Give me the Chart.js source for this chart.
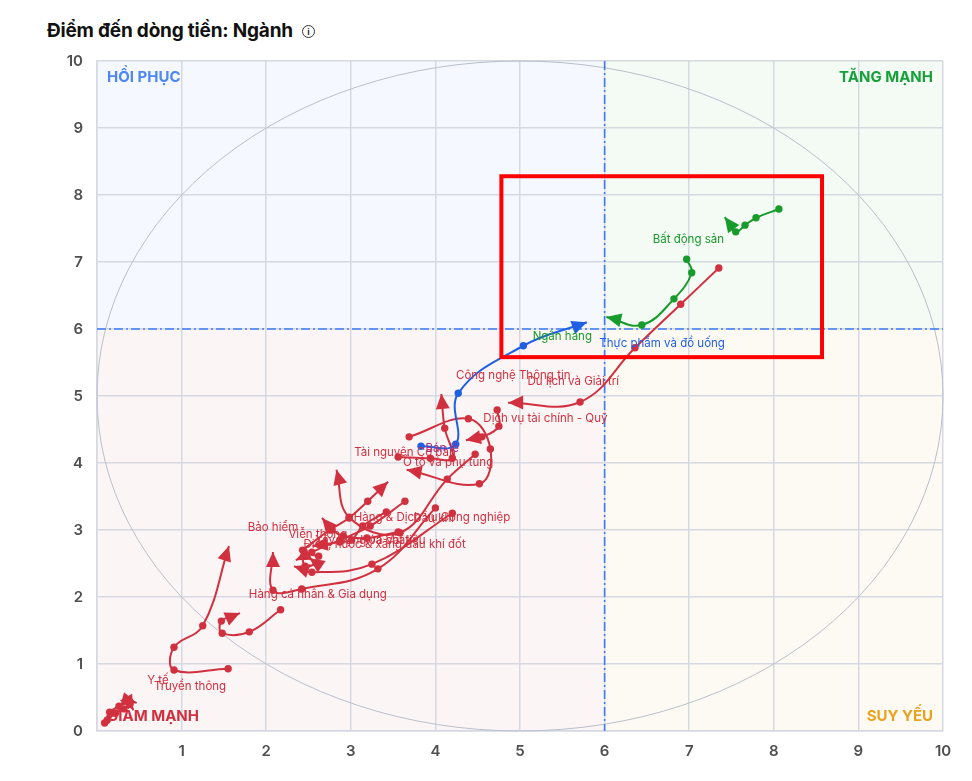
<!DOCTYPE html>
<html>
<head>
<meta charset="utf-8">
<script src="https://cdn.jsdelivr.net/npm/chart.js@4.4.1/dist/chart.umd.min.js"></script>
<style>
  html, body { margin: 0; padding: 0; background: #fff; }
  #wrap { position: relative; width: 972px; height: 781px; }
  #title { position: absolute; left: 47px; top: 19px; font: 700 19px Inter, "Noto Sans", sans-serif; color: #111; letter-spacing: -0.2px; }
  #info { display: inline-block; width: 11px; height: 11px; border: 1.3px solid #333; border-radius: 50%;
          font: 700 9px Inter, sans-serif; text-align: center; line-height: 11px; margin-left: 9px; vertical-align: 2px; color: #333; letter-spacing: 0; }
  canvas { position: absolute; left: 0; top: 0; }
</style>
</head>
<body>
<div id="wrap">
  <div id="title">Điểm đến dòng tiền: Ngành<span id="info">i</span></div>
  <canvas id="myChart" width="972" height="781"></canvas>
</div>
<script>
// sector trails (x = first value, y = second), last point is where the arrow sits
var sectors = ["Ngân hàng", "Bất động sản", "Thực phẩm và đồ uống", "Du lịch và Giải trí",
  "Dịch vụ tài chính - Quỹ", "Ô tô và phụ tùng", "Tài nguyên Cơ bản", "Hàng cá nhân & Gia dụng",
  "Công nghệ Thông tin", "Hàng & Dịch vụ Công nghiệp", "Bán lẻ", "Xây dựng và Vật liệu",
  "Viễn thông", "Điện, nước & xăng dầu khí đốt", "Dầu khí", "Y tế", "Truyền thông", "Bảo hiểm", "Hóa chất"];
var trailColor = ["blue", "green", "green", "red", "red", "red", "red", "red", "red", "red",
  "red", "red", "red", "red", "red", "red", "red", "red", "red"];
var trailX = [
  [3.83, 4.24, 4.27, 5.04, 5.79],
  [8.06, 7.79, 7.66, 7.55, 7.42],
  [6.97, 7.03, 6.82, 6.44, 6.02],
  [7.35, 6.90, 6.36, 5.71, 4.86],
  [4.73, 4.75, 4.55, 4.36],
  [3.69, 4.39, 4.65, 4.52, 3.66],
  [3.56, 3.94, 4.20, 4.11, 4.07],
  [4.00, 3.32, 2.42, 2.08, 2.08],
  [4.47, 4.14, 3.58, 2.98, 2.83],
  [2.43, 2.75, 2.98, 3.20, 3.44],
  [4.20, 3.25, 2.54, 2.33],
  [3.64, 3.23, 2.87, 2.54, 2.35],
  [2.62, 2.45, 2.46, 2.59, 2.51],
  [3.56, 3.19, 2.91, 2.78, 2.66],
  [3.42, 3.14, 3.01, 2.87, 2.55],
  [1.55, 0.91, 0.91, 1.25, 1.56],
  [2.17, 1.80, 1.48, 1.47, 1.69],
  [0.09, 0.15, 0.26, 0.38, 0.47],
  [0.12, 0.22, 0.32, 0.39, 0.43]
];
var trailY = [
  [4.25, 4.28, 5.04, 5.75, 6.10],
  [7.79, 7.66, 7.55, 7.45, 7.67],
  [7.04, 6.84, 6.45, 6.06, 6.18],
  [6.91, 6.37, 5.72, 4.91, 4.90],
  [4.79, 4.55, 4.39, 4.34],
  [4.39, 4.66, 4.21, 3.69, 3.90],
  [4.09, 4.07, 4.07, 4.52, 5.03],
  [3.33, 2.42, 2.12, 2.10, 2.67],
  [4.13, 3.76, 2.96, 3.19, 3.90],
  [2.70, 3.00, 3.18, 3.43, 3.72],
  [3.25, 2.49, 2.37, 2.46],
  [3.43, 3.06, 2.85, 2.67, 2.55],
  [2.61, 2.63, 2.46, 2.51, 2.58],
  [2.97, 2.88, 2.91, 3.00, 3.18],
  [3.27, 3.06, 2.85, 2.82, 2.76],
  [0.93, 0.91, 1.25, 1.57, 2.76],
  [1.81, 1.48, 1.46, 1.64, 1.76],
  [0.12, 0.28, 0.37, 0.45, 0.42],
  [0.16, 0.27, 0.33, 0.40, 0.31]
];
// where each sector name is written
var labelX = [5.50, 6.99, 6.68, 5.63, 5.30, 4.15, 3.64, 2.61, 4.92, 3.96, 4.08, 3.23, 2.61, 3.40, 3.98, 0.72, 1.10, 2.08, 3.40];
var labelY = [5.88, 7.34, 5.79, 5.21, 4.66, 4.00, 4.16, 2.04, 5.31, 3.18, 4.21, 2.85, 2.93, 2.79, 3.17, 0.75, 0.67, 3.04, 2.85];
var labelColor = ["green", "green", "blue", "red", "red", "red", "red", "red", "red", "red",
  "purple", "red", "red", "red", "red", "red", "red", "red", "red"];
var xTicks = [0, 1, 2, 3, 4, 5, 6, 7, 8, 9, 10];
var yTicks = [0, 1, 2, 3, 4, 5, 6, 7, 8, 9, 10];
var pivot = 6;
var focusBox = [4.78, 5.58, 8.57, 8.28];

var palette = { blue: '#1f5fe3', green: '#179b2b', red: '#d1303f', purple: '#a3307f' };

var datasets = sectors.map(function(name, i){
  var pts = trailX[i].map(function(x, j){ return { x: x, y: trailY[i][j] }; });
  var c = palette[trailColor[i]];
  return {
    label: name,
    data: pts,
    showLine: true,
    tension: 0.4,
    borderColor: c,
    backgroundColor: c,
    borderWidth: 2,
    pointRadius: function(ctx){ return ctx.dataIndex === pts.length - 1 ? 0 : 3.7; },
    pointBorderWidth: 0
  };
});

var quadrants = {
  id: 'quadrants',
  beforeDraw: function(chart){
    var a = chart.chartArea, ctx = chart.ctx;
    var px = chart.scales.x.getPixelForValue(pivot), py = chart.scales.y.getPixelForValue(pivot);
    ctx.save();
    ctx.fillStyle = '#f5f8fe'; ctx.fillRect(a.left, a.top, px - a.left, py - a.top);
    ctx.fillStyle = '#f4faf4'; ctx.fillRect(px, a.top, a.right - px, py - a.top);
    ctx.fillStyle = '#fcf5f6'; ctx.fillRect(a.left, py, px - a.left, a.bottom - py);
    ctx.fillStyle = '#fdfaf3'; ctx.fillRect(px, py, a.right - px, a.bottom - py);
    ctx.restore();
  },
  beforeDatasetsDraw: function(chart){
    var a = chart.chartArea, ctx = chart.ctx;
    var px = chart.scales.x.getPixelForValue(pivot), py = chart.scales.y.getPixelForValue(pivot);
    ctx.save();
    ctx.strokeStyle = '#b9c0cd'; ctx.lineWidth = 1;
    ctx.beginPath();
    ctx.ellipse((a.left + a.right) / 2, (a.top + a.bottom) / 2, (a.right - a.left) / 2, (a.bottom - a.top) / 2, 0, 0, Math.PI * 2);
    ctx.stroke();
    ctx.strokeStyle = '#3d7cf2'; ctx.lineWidth = 1.6; ctx.setLineDash([9, 3, 2, 3]);
    ctx.beginPath(); ctx.moveTo(px, a.top); ctx.lineTo(px, a.bottom); ctx.stroke();
    ctx.beginPath(); ctx.moveTo(a.left, py); ctx.lineTo(a.right, py); ctx.stroke();
    ctx.setLineDash([]);
    ctx.font = '700 15px Inter, "Noto Sans", sans-serif';
    ctx.textBaseline = 'middle';
    ctx.textAlign = 'left';
    ctx.fillStyle = '#4d86f5'; ctx.fillText('HỒI PHỤC', a.left + 10, a.top + 16);
    ctx.fillStyle = '#d1303f'; ctx.fillText('GIẢM MẠNH', a.left + 10, a.bottom - 15);
    ctx.textAlign = 'right';
    ctx.fillStyle = '#17a13a'; ctx.fillText('TĂNG MẠNH', a.right - 10, a.top + 16);
    ctx.fillStyle = '#eaa21c'; ctx.fillText('SUY YẾU', a.right - 10, a.bottom - 15);
    ctx.restore();
  },
  afterDatasetsDraw: function(chart){
    var ctx = chart.ctx;
    ctx.save();
    // arrow heads
    chart.data.datasets.forEach(function(ds, i){
      var pts = chart.getDatasetMeta(i).data;
      var p = pts[pts.length - 1], q = pts[pts.length - 2];
      var fx = p.cp1x, fy = p.cp1y;
      if (fx === undefined || Math.hypot(p.x - fx, p.y - fy) < 1) { fx = q.x; fy = q.y; }
      var ang = Math.atan2(p.y - fy, p.x - fx);
      var len = 15, hw = 7;
      ctx.fillStyle = ds.borderColor;
      ctx.beginPath();
      ctx.moveTo(p.x, p.y);
      ctx.lineTo(p.x - len * Math.cos(ang) + hw * Math.sin(ang), p.y - len * Math.sin(ang) - hw * Math.cos(ang));
      ctx.lineTo(p.x - len * Math.cos(ang) - hw * Math.sin(ang), p.y - len * Math.sin(ang) + hw * Math.cos(ang));
      ctx.closePath();
      ctx.fill();
    });
    // names
    ctx.font = '11.5px Inter, "Noto Sans", sans-serif';
    ctx.textAlign = 'center';
    ctx.textBaseline = 'middle';
    sectors.forEach(function(name, i){
      ctx.fillStyle = palette[labelColor[i]];
      ctx.fillText(name, chart.scales.x.getPixelForValue(labelX[i]), chart.scales.y.getPixelForValue(labelY[i]));
    });
    ctx.restore();
  },
  afterDraw: function(chart){
    var ctx = chart.ctx, sx = chart.scales.x, sy = chart.scales.y;
    var x0 = sx.getPixelForValue(focusBox[0]), y0 = sy.getPixelForValue(focusBox[3]);
    var x1 = sx.getPixelForValue(focusBox[2]), y1 = sy.getPixelForValue(focusBox[1]);
    ctx.save();
    ctx.strokeStyle = '#ff0000'; ctx.lineWidth = 4;
    ctx.strokeRect(x0, y0, x1 - x0, y1 - y0);
    ctx.restore();
  }
};

var ctx = document.getElementById('myChart').getContext('2d');
var chart = new Chart(ctx, {
  type: 'scatter',
  data: { datasets: datasets },
  options: {
    responsive: false,
    animation: false,
    layout: { padding: { left: 37, right: 29, top: 61, bottom: 10 } },
    plugins: { legend: { display: false }, tooltip: { enabled: false }, title: { display: false } },
    scales: {
      x: {
        min: 0, max: 10,
        afterBuildTicks: function(s){ s.ticks = xTicks.map(function(v){ return { value: v }; }); },
        afterFit: function(s){ s.height = 40; },
        grid: { color: '#d6d9e1', lineWidth: 1.5, drawTicks: false },
        border: { color: '#d6d9e1', width: 1.5 },
        ticks: {
          padding: 11,
          color: '#4f4f4f', font: { family: 'Inter', size: 15, weight: '600' },
          callback: function(v){ return v === 0 ? '' : v; }
        }
      },
      y: {
        min: 0, max: 10,
        afterBuildTicks: function(s){ s.ticks = yTicks.map(function(v){ return { value: v }; }); },
        afterFit: function(s){ s.width = 60; },
        grid: { color: '#d6d9e1', lineWidth: 1.5, drawTicks: false },
        border: { color: '#d6d9e1', width: 1.5 },
        ticks: { padding: 14, color: '#4f4f4f', font: { family: 'Inter', size: 15, weight: '600' } }
      }
    }
  },
  plugins: [quadrants]
});
</script>
</body>
</html>
